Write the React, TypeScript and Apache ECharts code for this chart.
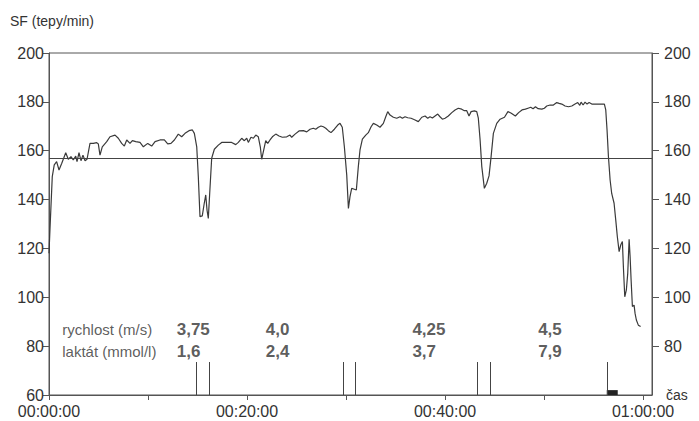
import React, { useEffect, useRef } from "react";
import * as echarts from "echarts";

// time in minutes, heart rate (tepy/min)
const timeMin = [
  0, 0.1, 0.33, 0.53, 0.77, 1.01, 1.28, 1.69, 1.95, 2.22, 2.45, 2.7, 2.83, 3.03, 3.23, 3.43, 3.64, 3.84,
  4.14, 4.48, 4.82, 4.98, 5.15, 5.38, 5.83, 6.16, 6.67, 7.0, 7.34, 7.61, 7.85, 8.18, 8.42, 8.76, 9.19,
  9.53, 9.97, 10.37, 10.71, 11.21, 11.65, 11.99, 12.32, 12.66, 13.06, 13.4, 13.74, 14.14, 14.48, 14.68,
  14.92, 15.08, 15.25, 15.48, 15.68, 15.83, 15.96, 16.09, 16.23, 16.43, 16.7, 17.1, 17.44, 17.95, 18.45,
  18.86, 19.12, 19.46, 19.73, 19.97, 20.13, 20.4, 20.64, 20.88, 21.14, 21.34, 21.48, 21.72, 21.89, 22.09,
  22.32, 22.56, 22.9, 23.23, 23.57, 24.01, 24.34, 24.51, 24.85, 25.25, 25.69, 26.03, 26.36, 26.7, 26.94,
  27.2, 27.47, 27.71, 27.95, 28.21, 28.48, 28.82, 29.16, 29.39, 29.62, 29.83, 30.07, 30.24, 30.4, 30.57,
  30.84, 31.04, 31.24, 31.41, 31.65, 31.99, 32.25, 32.53, 32.76, 33.1, 33.43, 33.77, 34.01, 34.21, 34.44,
  34.78, 35.12, 35.45, 35.69, 35.96, 36.23, 36.57, 36.97, 37.3, 37.65, 37.98, 38.25, 38.48, 38.72, 38.99,
  39.26, 39.49, 39.73, 40.0, 40.33, 40.68, 41.01, 41.34, 41.68, 41.95, 42.19, 42.42, 42.63, 42.96, 43.2,
  43.36, 43.54, 43.71, 43.97, 44.21, 44.44, 44.65, 44.88, 45.22, 45.56, 46.0, 46.35, 46.69, 47.1, 47.43,
  47.77, 48.11, 48.38, 48.65, 48.89, 49.13, 49.4, 49.77, 50.03, 50.27, 50.61, 50.94, 51.28, 51.52, 51.79,
  52.12, 52.46, 52.8, 53.13, 53.4, 53.61, 53.74, 53.94, 54.14, 54.34, 54.55, 54.82, 55.48, 56.09, 56.23,
  56.36, 56.5, 56.67, 56.83, 57.07, 57.24, 57.4, 57.58, 57.75, 57.91, 58.01, 58.15, 58.31, 58.45, 58.59,
  58.69, 58.79, 58.92, 59.09, 59.19, 59.32, 59.52, 59.75,
];
const heartRate = [
  118, 128, 149.4, 154.2, 155.5, 152.1, 154.8, 159.2, 156.5, 157.6, 156.2, 157.8, 155.5, 159.2, 155.9, 158.2, 155.9, 156.5,
  163, 163, 163.3, 162.8, 158.2, 161.6, 163.7, 165.7, 166.4, 165.1, 163, 161.9, 164.4, 163, 164.1, 163.7, 163.4,
  161.6, 163, 161.9, 163.7, 164.4, 164.4, 162.8, 163, 164.4, 166.8, 165.7, 167.1, 168.2, 168.5, 167.1,
  161.6, 149.4, 133, 133.3, 138.5, 141.9, 135.7, 132.3, 142.6, 156.9, 160.6, 162.3, 163.4, 163.4, 163.4,
  162.5, 163.4, 165.1, 164.1, 165.1, 163.4, 165.5, 165.1, 166.4, 165.7, 161.6, 156.5, 161, 164.1, 163,
  164.4, 165.7, 166.8, 166, 165.5, 165.7, 166.4, 165.5, 166.8, 168.1, 168.2, 167.7, 168.8, 169.2, 168.8,
  169.6, 170.1, 169.8, 169.2, 168.2, 167.4, 168.8, 170.5, 171.2, 169.6, 161.6, 150, 136.4, 141.2, 144.6,
  144.2, 143.9, 153.5, 160.3, 164.7, 166.4, 167.4, 169.8, 171.2, 170.5, 169.6, 171.2, 173.9, 176, 174.6,
  173.7, 173.3, 173.9, 173.3, 173.9, 173.5, 173.3, 172.6, 171.9, 173.7, 174.2, 173.3, 173.9, 173.4, 174.2,
  175, 173.9, 172.9, 173.3, 174.2, 175.6, 176.7, 177.4, 177, 176.4, 176.4, 174.2, 176, 176.3, 176,
  173.3, 164.4, 153.5, 144.6, 146.7, 149.7, 157.6, 167.1, 171.2, 172.9, 173.7, 176, 175.3, 174.2, 175.6,
  176.7, 177, 177.4, 177.8, 177.2, 178, 177.2, 177, 177.4, 178.3, 178.7, 178.7, 179.7, 179.4, 179.1,
  178.3, 178, 178.3, 179.1, 179.7, 178.6, 179.9, 178.7, 179.9, 179.1, 179.7, 179.1, 179.1, 179.1, 176.7,
  168.5, 157.6, 148, 142.5, 138.5, 131.6, 124.8, 118.7, 121.5, 122.8, 112.5, 100.2, 103, 109.8, 123.7,
  116.6, 107.1, 96.2, 96.8, 93.4, 90.7, 88.6, 88,
];
const thresholdHR = 157;
// lactate sampling moments (minutes)
const sampleTimes = [14.92, 16.16, 29.73, 30.98, 43.3, 44.55, 56.33];
const finalSampleEnd = 57.44;
const stageSpeeds = ["3,75", "4,0", "4,25", "4,5"];
const stageLactates = ["1,6", "2,4", "3,7", "7,9"];
const yTicksLeft = [60, 80, 100, 120, 140, 160, 180, 200];
const yTicksRight = [80, 100, 120, 140, 160, 180, 200];
const xTickLabels = ["00:00:00", "00:20:00", "00:40:00", "01:00:00"];
const xLabelValues = [0, 20, 40, 60];

export default function App() {
  const ref = useRef<HTMLDivElement>(null);
  useEffect(() => {
    if (!ref.current) return;
    const chart = echarts.init(ref.current, null, { renderer: "svg" });
    const font = "'Liberation Sans', Arial, sans-serif";
    const text = "#333";
    const line = "#555";
    const stageLabelTimes = [12.9, 21.9, 36.7, 49.4];
    const rowSpeedY = 87;
    const rowLactY = 78;
    const labelData: any[] = [
      { value: [1.34, rowSpeedY], name: "rychlost (m/s)", bold: false },
      { value: [1.34, rowLactY], name: "laktát (mmol/l)", bold: false },
    ];
    stageSpeeds.forEach((s, i) => labelData.push({ value: [stageLabelTimes[i], rowSpeedY], name: s, bold: true }));
    stageLactates.forEach((s, i) => labelData.push({ value: [stageLabelTimes[i], rowLactY], name: s, bold: true }));

    const yAxisCommon = {
      type: "value",
      min: 60,
      max: 200,
      interval: 20,
      axisLine: { show: true, lineStyle: { color: line, width: 1 } },
      axisTick: { show: true, length: 6, lineStyle: { color: line } },
      splitLine: { show: false },
      axisLabel: { color: text, fontSize: 16, fontFamily: font, margin: 5 },
    };

    chart.setOption({
      animation: false,
      backgroundColor: "#fff",
      textStyle: { fontFamily: font },
      grid: {
        left: 49,
        right: 47,
        top: 53,
        bottom: 26,
        show: true,
        borderColor: line,
        borderWidth: 1,
        containLabel: false,
        outerBoundsMode: "none",
      },
      graphic: [
        {
          type: "text",
          left: 10,
          top: 14,
          style: { text: "SF (tepy/min)", fill: text, fontSize: 14, fontFamily: font },
        },
      ],
      xAxis: {
        type: "value",
        min: 0,
        max: 60.9,
        name: "čas",
        nameLocation: "end",
        nameGap: 14,
        nameTextStyle: { color: text, fontSize: 14, fontFamily: font },
        axisLine: { show: true, lineStyle: { color: line } },
        axisTick: { show: true, length: 5, lineStyle: { color: line }, customValues: [0, 10, 20, 30, 40, 50, 60] },
        splitLine: { show: false },
        axisLabel: {
          color: text,
          fontSize: 16,
          fontFamily: font,
          margin: 8,
          customValues: xLabelValues,
          formatter: (v: number) => {
            const i = xLabelValues.indexOf(Math.round(v));
            return i >= 0 ? xTickLabels[i] : "";
          },
        },
      },
      yAxis: [
        { ...yAxisCommon, position: "left", axisLabel: { ...yAxisCommon.axisLabel, customValues: yTicksLeft } },
        {
          ...yAxisCommon,
          position: "right",
          axisTick: { ...yAxisCommon.axisTick, length: 7, customValues: yTicksRight },
          axisLabel: { ...yAxisCommon.axisLabel, margin: 12, customValues: yTicksRight },
        },
      ],
      series: [
        {
          type: "line",
          data: timeMin.map((t, i) => [t, heartRate[i]]),
          symbol: "none",
          lineStyle: { color: "#3a3a3a", width: 1.2 },
          markLine: {
            silent: true,
            symbol: "none",
            label: { show: false },
            lineStyle: { color: "#444", width: 1, type: "solid" },
            data: [
              { yAxis: thresholdHR },
              ...sampleTimes.map((t) => [{ coord: [t, 60] }, { coord: [t, 73.5] }]),
            ],
          },
          markArea: {
            silent: true,
            itemStyle: { color: "#222" },
            data: [[{ coord: [sampleTimes[sampleTimes.length - 1], 60] }, { coord: [finalSampleEnd, 62] }]],
          },
        },
        {
          type: "scatter",
          symbolSize: 0,
          silent: true,
          data: labelData.map((d) => ({
            value: d.value,
            name: d.name,
            label: d.bold
              ? { fontWeight: "bold", fontSize: 17, color: "#333" }
              : { fontWeight: "normal", fontSize: 15, color: "#333" },
          })),
          label: {
            show: true,
            position: "right",
            distance: 0,
            color: text,
            fontFamily: font,
            formatter: (p: any) => p.name,
          },
        },
      ],
    });
    return () => chart.dispose();
  }, []);
  return <div ref={ref} style={{ position: "absolute", left: 0, top: 0, width: 699, height: 421 }} />;
}
